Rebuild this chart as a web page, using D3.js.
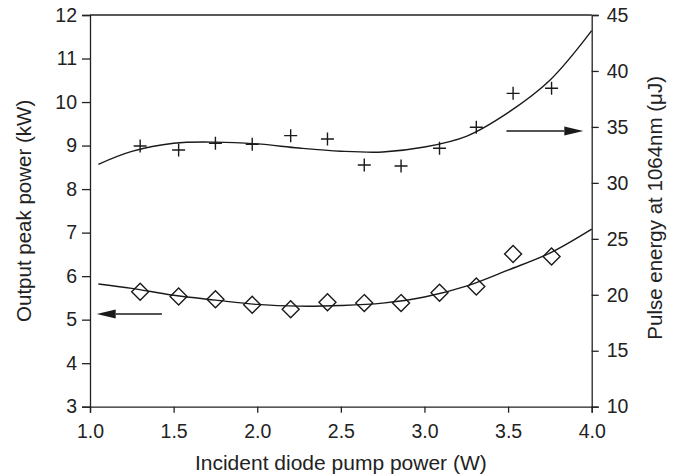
<!DOCTYPE html>
<html>
<head>
<meta charset="utf-8">
<script src="https://cdn.jsdelivr.net/npm/d3@7"></script>
<style>
  body { margin: 0; background: #fff; }
  svg text { font-family: "Liberation Sans", Arial, Helvetica, sans-serif; fill: #222; }
  .axis path, .axis line { stroke: #222; stroke-width: 1.3; }
</style>
</head>
<body>
<svg id="chart" width="681" height="476"></svg>
<script>
// measured points
const pumpPower = [1.30, 1.53, 1.75, 1.97, 2.20, 2.42, 2.64, 2.86, 3.09, 3.31, 3.53, 3.76];
const peakPower = [5.64, 5.53, 5.47, 5.34, 5.24, 5.40, 5.38, 5.38, 5.62, 5.76, 6.51, 6.45];
const pulseEnergy = [33.30, 32.94, 33.54, 33.45, 34.22, 33.92, 31.60, 31.51, 33.09, 34.97, 38.00, 38.45];

// fitted curves
const fitX = [1.05, 1.25, 1.5, 1.75, 2.0, 2.25, 2.5, 2.75, 3.0, 3.25, 3.5, 3.75, 4.0];
const peakFit = [5.82, 5.72, 5.56, 5.45, 5.35, 5.31, 5.325, 5.38, 5.52, 5.77, 6.14, 6.53, 7.08];
const energyFit = [31.66, 32.81, 33.54, 33.64, 33.48, 33.11, 32.83, 32.76, 33.2, 34.16, 36.28, 39.17, 43.6];

const xTicks = [1.0, 1.5, 2.0, 2.5, 3.0, 3.5, 4.0];
const leftTicks = [3, 4, 5, 6, 7, 8, 9, 10, 11, 12];
const rightTicks = [10, 15, 20, 25, 30, 35, 40, 45];

// arrows pointing to the axis each series belongs to: [x0, x1, y]
const leftArrow = [1.43, 1.04, 5.13];
const rightArrow = [3.49, 3.95, 34.64];

let margin = { top: 15, right: 89.3, bottom: 69.3, left: 90 };

let svg = d3.select("#chart");
let width = +svg.attr("width");
let height = +svg.attr("height");

let x = d3.scaleLinear()
  .domain([1, 4])
  .range([margin.left, width - margin.right]);

let yLeft = d3.scaleLinear()
  .domain([3, 12])
  .range([height - margin.bottom, margin.top]);

let yRight = d3.scaleLinear()
  .domain([10, 45])
  .range([height - margin.bottom, margin.top]);

// top border
svg.append("line")
  .attr("x1", x(1)).attr("x2", x(4))
  .attr("y1", margin.top).attr("y2", margin.top)
  .attr("stroke", "#222").attr("stroke-width", 1.3);

// Assi
let xAxis = svg.append("g")
  .classed("axis", true)
  .attr("transform", `translate(0,${height - margin.bottom})`)
  .call(d3.axisBottom(x).tickValues(xTicks).tickFormat(d3.format(".1f")).tickSizeOuter(0).tickSize(6).tickPadding(6));

let leftAxis = svg.append("g")
  .classed("axis", true)
  .attr("transform", `translate(${margin.left},0)`)
  .call(d3.axisLeft(yLeft).tickValues(leftTicks).tickSizeOuter(0).tickSize(8).tickPadding(5));

let rightAxis = svg.append("g")
  .classed("axis", true)
  .attr("transform", `translate(${width - margin.right},0)`)
  .call(d3.axisRight(yRight).tickValues(rightTicks).tickSizeOuter(0).tickSize(7).tickPadding(8));

svg.selectAll(".axis text")
  .style("font-size", "19.5px")
  .style("font-family", "'Liberation Sans', Arial, sans-serif")
  .attr("fill", "#222");

xAxis.selectAll("text").attr("dy", "1em");

// titles
svg.append("text")
  .attr("x", (x(1) + x(4)) / 2)
  .attr("y", 470)
  .attr("text-anchor", "middle")
  .style("font-size", "21px")
  .text("Incident diode pump power (W)");

svg.append("text")
  .attr("transform", `translate(31,${(yLeft(3) + yLeft(12)) / 2}) rotate(-90)`)
  .attr("text-anchor", "middle")
  .style("font-size", "20.5px")
  .text("Output peak power (kW)");

svg.append("text")
  .attr("transform", `translate(662,${(yRight(10) + yRight(45)) / 2 - 3}) rotate(-90)`)
  .attr("text-anchor", "middle")
  .style("font-size", "20.5px")
  .text("Pulse energy at 1064nm (μJ)");

// fitted lines
let line = d3.line().curve(d3.curveCatmullRom.alpha(0.5));

svg.append("path")
  .attr("d", line(fitX.map((v, i) => [x(v), yLeft(peakFit[i])])))
  .attr("fill", "none")
  .attr("stroke", "#1a1a1a")
  .attr("stroke-width", 1.4);

svg.append("path")
  .attr("d", line(fitX.map((v, i) => [x(v), yRight(energyFit[i])])))
  .attr("fill", "none")
  .attr("stroke", "#1a1a1a")
  .attr("stroke-width", 1.4);

// diamonds
let dr = 8.5;
svg.append("g")
  .selectAll("path")
  .data(pumpPower)
  .enter()
  .append("path")
  .attr("d", (d, i) => {
    let cx = x(d), cy = yLeft(peakPower[i]);
    return `M${cx},${cy - dr}L${cx + dr},${cy}L${cx},${cy + dr}L${cx - dr},${cy}Z`;
  })
  .attr("fill", "none")
  .attr("stroke", "#1a1a1a")
  .attr("stroke-width", 1.4);

// crosses
let cr = 6.5;
svg.append("g")
  .selectAll("path")
  .data(pumpPower)
  .enter()
  .append("path")
  .attr("d", (d, i) => {
    let cx = x(d), cy = yRight(pulseEnergy[i]);
    return `M${cx - cr},${cy}H${cx + cr}M${cx},${cy - cr}V${cy + cr}`;
  })
  .attr("fill", "none")
  .attr("stroke", "#1a1a1a")
  .attr("stroke-width", 1.4);

// arrows
function arrow(x0, x1, y) {
  let dir = Math.sign(x1 - x0);
  let headLen = 19, headW = 4.5;
  svg.append("line")
    .attr("x1", x0).attr("x2", x1 - dir * headLen)
    .attr("y1", y).attr("y2", y)
    .attr("stroke", "#1a1a1a").attr("stroke-width", 1.4);
  svg.append("path")
    .attr("d", `M${x1},${y}L${x1 - dir * headLen},${y - headW}L${x1 - dir * headLen},${y + headW}Z`)
    .attr("fill", "#1a1a1a");
}

arrow(x(leftArrow[0]), x(leftArrow[1]), yLeft(leftArrow[2]));
arrow(x(rightArrow[0]), x(rightArrow[1]), yRight(rightArrow[2]));
</script>
</body>
</html>
